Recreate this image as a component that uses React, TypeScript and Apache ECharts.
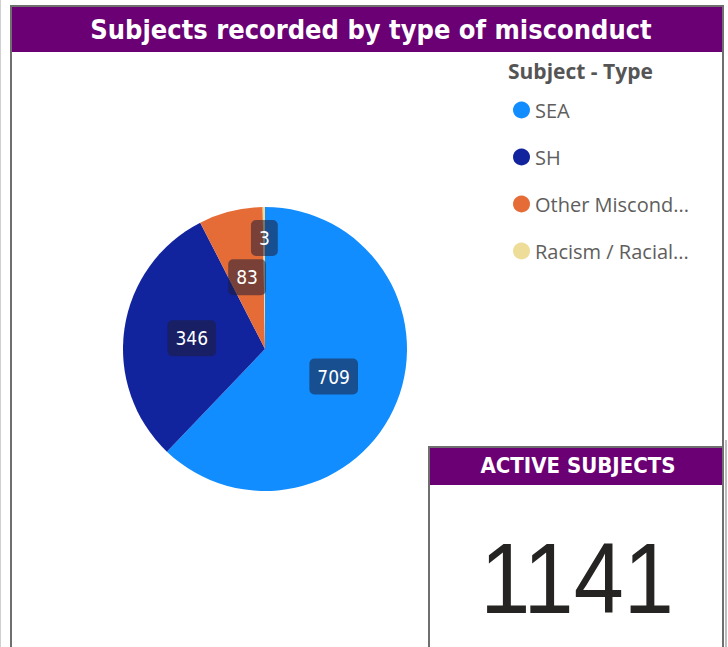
import React, { useEffect, useRef } from "react";
import * as echarts from "echarts";

const categories = ["SEA", "SH", "Other Misconduct", "Racism / Racial Discrimination"];
const values = [709, 346, 83, 3];
const colors = ["#118DFF", "#12239E", "#E66C37", "#EDDD98"];
const title = "Subjects recorded by type of misconduct";
const legendTitle = "Subject - Type";
const cardTitle = "ACTIVE SUBJECTS";
const activeTotal = 1141;

const PURPLE = "#6a0073";
const BORDER = "#6f6f6f";

export default function App() {
  const ref = useRef<HTMLDivElement>(null);
  useEffect(() => {
    if (!ref.current) return;
    const chart = echarts.init(ref.current, undefined, { renderer: "svg" });
    const option: any = {
      animation: false,
      backgroundColor: "#ffffff",
      legend: {
        orient: "vertical",
        left: 508,
        top: 95,
        icon: "circle",
        itemWidth: 17,
        itemHeight: 17,
        itemGap: 27,
        selectedMode: false,
        data: categories,
        textStyle: {
          color: "#605E5C",
          fontSize: 20,
          fontFamily: "Open Sans, Noto Sans, sans-serif",
          width: 165,
          overflow: "truncate",
          ellipsis: "...",
        },
      },
      graphic: [
        { type: "line", shape: { x1: 0.5, y1: 0, x2: 0.5, y2: 647 }, style: { stroke: "#cfcfcf", lineWidth: 1 }, z: 0 },
        { type: "rect", shape: { x: 11, y: 6, width: 712, height: 680 }, style: { fill: "none", stroke: BORDER, lineWidth: 2 }, z: 0 },
        { type: "line", shape: { x1: 726, y1: 440, x2: 726, y2: 647 }, style: { stroke: "#bdbdbd", lineWidth: 2 }, z: 0 },
        { type: "rect", shape: { x: 12, y: 7, width: 710, height: 45 }, style: { fill: PURPLE }, z: 1 },
        {
          type: "text",
          x: 371,
          y: 29.5,
          style: {
            text: title,
            fill: "#ffffff",
            font: "bold 27px 'DejaVu Sans Condensed', 'DejaVu Sans', sans-serif",
            align: "center",
            verticalAlign: "middle",
          },
          z: 2,
        },
        {
          type: "text",
          x: 508,
          y: 71,
          style: {
            text: legendTitle,
            fill: "#555555",
            font: "bold 21px 'Open Sans', 'Noto Sans', sans-serif",
            align: "left",
            verticalAlign: "middle",
          },
          z: 2,
        },
        { type: "rect", shape: { x: 429, y: 447, width: 294, height: 220 }, style: { fill: "#ffffff", stroke: BORDER, lineWidth: 2 }, z: 3 },
        { type: "rect", shape: { x: 430, y: 448, width: 292, height: 37 }, style: { fill: PURPLE }, z: 4 },
        {
          type: "text",
          x: 578,
          y: 465,
          style: {
            text: cardTitle,
            fill: "#ffffff",
            font: "bold 22px 'DejaVu Sans Condensed', 'DejaVu Sans', sans-serif",
            align: "center",
            verticalAlign: "middle",
          },
          z: 5,
        },
        {
          type: "text",
          x: 577,
          y: 578,
          scaleX: 0.9,
          originX: 0,
          style: {
            text: String(activeTotal),
            fill: "#252423",
            font: "100px 'Liberation Sans', Arial, sans-serif",
            align: "center",
            verticalAlign: "middle",
          },
          z: 5,
        },
      ],
      series: [
        {
          type: "pie",
          center: [265, 349],
          radius: 142,
          startAngle: 90,
          clockwise: true,
          avoidLabelOverlap: false,
          itemStyle: { borderWidth: 0 },
          label: {
            show: true,
            position: "inside",
            formatter: "{c}",
            color: "#ffffff",
            fontSize: 19,
            fontFamily: "'DejaVu Sans Condensed', 'DejaVu Sans', sans-serif",
            backgroundColor: "rgba(30,30,55,0.55)",
            borderRadius: 5,
            padding: [9, 8, 8, 8],
          },
          labelLine: { show: false },
          emphasis: { disabled: true },
          data: categories.map((name, i) => ({
            name,
            value: values[i],
            itemStyle: { color: colors[i] },
            ...(i === 3 ? { label: { offset: [0, -37] } } : {}),
          })),
        },
      ],
    };
    chart.setOption(option);
    return () => chart.dispose();
  }, []);
  return (
    <div
      ref={ref}
      style={{ position: "fixed", left: 0, top: 0, width: 728, height: 647 }}
    />
  );
}
